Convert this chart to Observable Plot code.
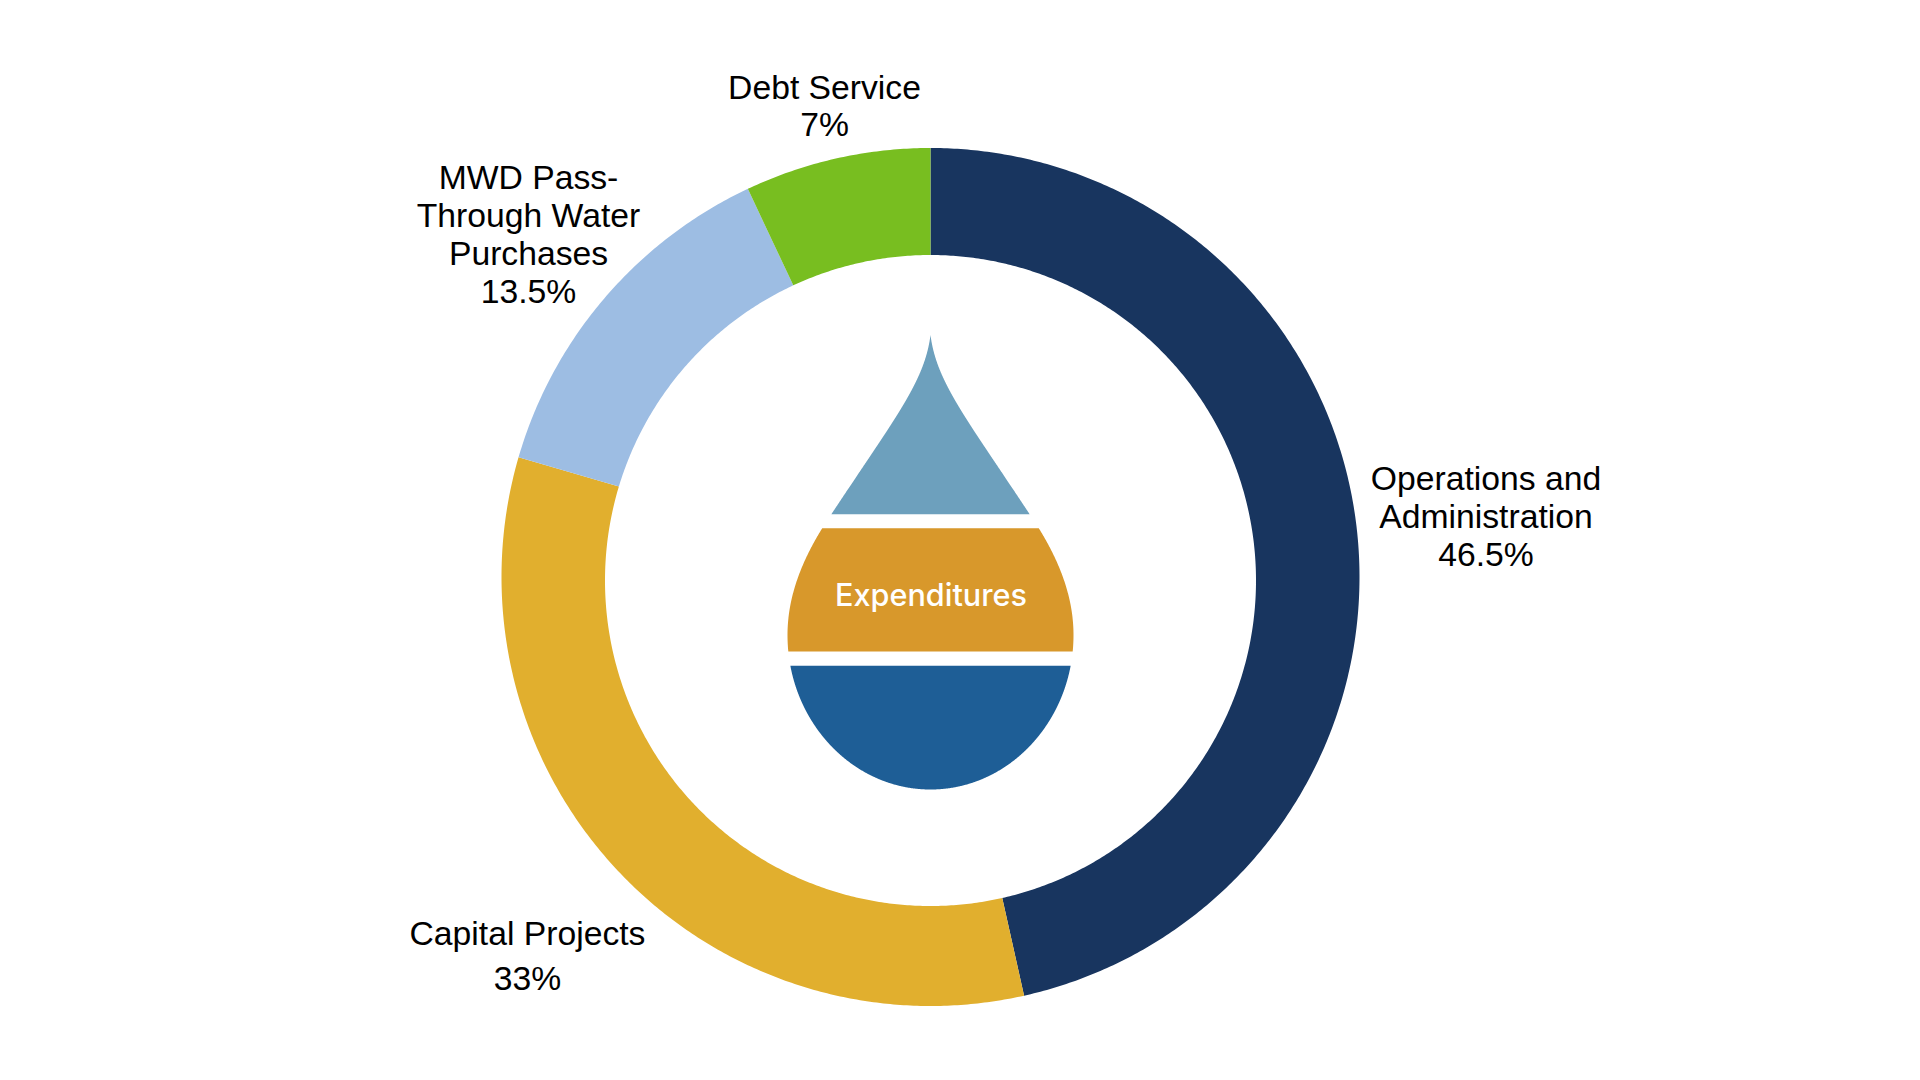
<!DOCTYPE html>
<html><head><meta charset="utf-8">
<script src="https://cdn.jsdelivr.net/npm/d3@7"></script>
<script src="https://cdn.jsdelivr.net/npm/@observablehq/plot@0.6"></script>
<style>html,body{margin:0;padding:0;background:#fff}svg{display:block}</style>
</head><body><div id="chart"></div>
<script>
const categories = ["Operations and Administration", "Capital Projects", "MWD Pass-Through Water Purchases", "Debt Service"];
const values = [46.5, 33, 13.5, 7];
const colors = ["#18355f", "#e1af2e", "#9dbde3", "#78be20"];
const labelLines = [["Operations and", "Administration"], ["Capital Projects"], ["MWD Pass-", "Through Water", "Purchases"], ["Debt Service"]];
const labelX = [555, -403.5, -402.5, -106.5];
const labelY = [[-98, -60, -22], [357, 402], [-399, -361, -323, -285], [-489, -452]];

const outerR = 429, innerR = 325.5, innerDrop = 3.5;

// ring bands, laid out from the values; the hole sits slightly below the ring's centre
let start = 0;
const ring = [];
categories.forEach((name, i) => {
  const end = start + values[i];
  const n = Math.ceil(values[i] * 8);
  d3.range(n + 1).forEach(k => {
    const t = (start + values[i] * k / n) / 100 * 2 * Math.PI;
    const sx = Math.sin(t), cy = -Math.cos(t);
    const s = innerDrop * cy + Math.sqrt(innerR * innerR - innerDrop * innerDrop * (1 - cy * cy));
    ring.push({name, sx, cy, s});
  });
  start = end;
});

// text rows
const labels = [];
categories.forEach((name, i) => {
  labelLines[i].forEach((line, j) => labels.push({line, x: labelX[i], y: labelY[i][j]}));
  labels.push({line: values[i] + "%", x: labelX[i], y: labelY[i][labelLines[i].length]});
});

// water-drop emblem outline (right half), as cubic segments
const outline = [
  [[0,-242],[6,-195],[35,-160],[99,-63]],
  [[99,-63],[125,-25],[143,15],[143,58]],
  [[143,58],[143,143],[79,212.5],[0,212.5]]
];
const samples = outline.flatMap(([a,b,c,e]) => d3.range(0, 1.0001, 0.002).map(t => {
  const u = 1 - t;
  const f = i => u*u*u*a[i] + 3*u*u*t*b[i] + 3*u*t*t*c[i] + t*t*t*e[i];
  return {w: f(0), y: f(1)};
}));
const band = (y0, y1) => samples.filter(d => d.y >= y0 && d.y <= y1);

const plot = Plot.plot({
  width: 1920, height: 1080, margin: 0,
  x: {domain: [-930.5, 989.5], range: [0, 1920], axis: null},
  y: {domain: [-577, 503], range: [0, 1080], axis: null},
  color: {domain: categories, range: colors},
  style: {background: "#fff"},
  marks: [
    Plot.area(ring, {
      x1: d => d.sx * outerR, y1: d => d.cy * outerR,
      x2: d => d.sx * d.s, y2: d => d.cy * d.s,
      fill: "name", z: "name"
    }),
    Plot.areaX(band(-242, -62.7), {y: "y", x1: d => -d.w, x2: "w", fill: "#6da0bd"}),
    Plot.areaX(band(-49, 74.7), {y: "y", x1: d => -d.w, x2: "w", fill: "#d8982b"}),
    Plot.areaX(band(88.7, 213), {y: "y", x1: d => -d.w, x2: "w", fill: "#1e5e96"}),
    Plot.text(labels, {x: "x", y: "y", text: "line", fontFamily: "Liberation Sans", fontSize: 33.7, fill: "#000", textAnchor: "middle", lineAnchor: "middle"}),
    Plot.text(["Expenditures"], {x: [0], y: [19], text: d => d, fontFamily: "Inter", fontWeight: 500, fontSize: 30.6, fill: "#fff", textAnchor: "middle", lineAnchor: "middle"})
  ]
});
document.getElementById("chart").appendChild(plot);
</script>
</body></html>
